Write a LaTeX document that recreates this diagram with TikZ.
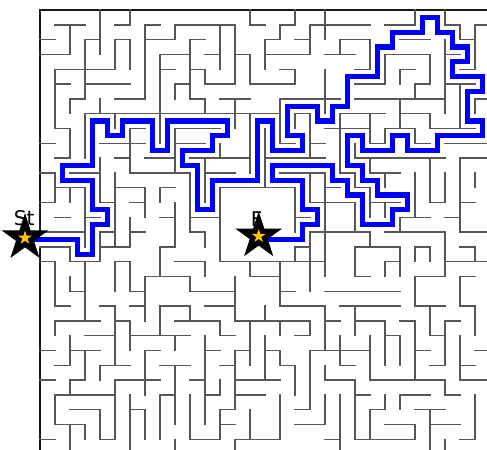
\documentclass[tikz,border=0pt]{standalone}
\usepackage{fontspec}
\newfontfamily\lblfont{DejaVu Sans}
\usetikzlibrary{shapes.geometric}
\begin{document}
\begin{tikzpicture}[x=0.3cm,y=-0.296cm,
  wall/.style={draw=black!66,line width=0.8pt,line cap=rect},
  border/.style={draw=black!90,line width=0.85pt},
  route/.style={draw=blue,line width=3pt,line join=miter},
  blackstar/.style={star,star points=5,star point ratio=2.618,fill=black,draw=none,inner sep=0pt,minimum size=0.99cm},
  goldstar/.style={star,star points=5,star point ratio=2.618,fill={rgb,255:red,255;green,198;blue,0},draw=none,inner sep=0pt,minimum size=0.29cm},
  lbl/.style={font=\lblfont\fontsize{11.5}{12}\selectfont,inner sep=0pt,text=black,anchor=base}]
\useasboundingbox (-2.6667,-0.6757) rectangle (29.8,29.6622);
% outer border (left and top)
\draw[border] (0,15) -- (0,0) -- (29.8,0);
\draw[border] (0,16) -- (0,30);
% horizontal walls  j / from / to
\foreach \j/\a/\b in {
 1/1/3, 1/5/6, 1/7/8, 1/9/13, 1/14/15, 1/16/17, 1/18/22, 1/23/25, 1/27/28, 1/29/30,
 2/0/1, 2/3/4, 2/5/6, 2/7/9, 2/10/11, 2/15/16, 2/17/18, 2/20/22, 2/24/26, 2/28/29,
 3/0/2, 3/8/10, 3/11/12, 3/13/14, 3/15/18, 3/19/21, 3/23/26, 3/27/28,
 4/1/5, 4/8/9, 4/10/11, 4/16/17, 4/21/22, 4/24/25, 4/28/29,
 5/1/2, 5/3/6, 5/9/10, 5/11/13, 5/14/17, 5/21/23, 5/25/26, 5/27/29,
 6/2/3, 6/5/7, 6/10/11, 6/12/14, 6/16/20, 6/21/27, 6/29/30,
 7/3/16, 7/17/18, 7/20/23, 7/24/26,
 8/1/2, 8/6/7, 8/9/12, 8/19/22, 8/23/25, 8/26/29,
 9/0/1, 9/4/7, 9/9/11, 9/16/17, 9/18/19, 9/22/23, 9/25/26, 9/27/30,
 10/1/2, 10/5/6, 10/7/9, 10/10/14, 10/15/19, 10/21/27, 10/28/30,
 11/0/1, 11/2/4, 11/6/10, 11/11/13, 11/16/19, 11/20/21, 11/22/24,
 12/1/3, 12/5/7, 12/8/9, 12/12/17, 12/19/20, 12/21/22,
 13/0/1, 13/4/5, 13/6/7, 13/18/21, 13/22/24, 13/26/27, 13/28/29,
 14/1/2, 14/3/4, 14/8/9, 14/10/12, 14/17/18, 14/24/26, 14/27/28,
 15/0/3, 15/4/5, 15/6/7, 15/10/11, 15/18/22, 15/23/27, 15/28/30,
 16/0/2, 16/4/6, 16/8/9, 16/17/18, 16/21/24, 16/25/26, 16/28/29,
 17/0/1, 17/2/4, 17/5/6, 17/9/11, 17/12/19, 17/23/24, 17/27/30,
 18/7/10, 18/14/16, 18/21/22, 18/25/27, 18/28/29,
 19/2/3, 19/6/7, 19/10/13, 19/16/17, 19/19/24,
 20/1/2, 20/4/5, 20/6/7, 20/8/10, 20/11/13, 20/16/19, 20/20/24, 20/25/27, 20/28/29,
 21/1/4, 21/5/6, 21/9/12, 21/13/18, 21/19/20, 21/21/23, 21/24/25, 21/27/28,
 22/3/5, 22/6/10, 22/12/13, 22/17/18, 22/23/24, 22/26/27,
 23/0/1, 23/2/4, 23/7/8, 23/11/12, 23/13/14, 23/15/16, 23/18/22, 23/25/26, 23/29/30,
 24/1/2, 24/4/6, 24/8/10, 24/12/13, 24/16/17, 24/20/21, 24/26/27, 24/28/29,
 25/0/1, 25/2/3, 25/5/8, 25/10/11, 25/13/16, 25/19/21, 25/22/27, 25/28/30,
 26/1/5, 26/8/9, 26/11/12, 26/13/15, 26/21/22, 26/24/26, 26/27/28,
 27/2/4, 27/6/7, 27/12/13, 27/17/18, 27/22/23, 27/25/27,
 28/1/3, 28/12/13, 28/17/19, 28/23/25, 28/26/28,
 29/0/1, 29/4/5, 29/10/12, 29/13/16, 29/19/20, 29/21/25, 29/28/29}
 \draw[wall] (\a,\j) -- (\b,\j);
% vertical walls  i / from / to
\foreach \i/\a/\b in {
 1/4/8, 1/11/13, 1/17/20, 1/21/22, 1/26/28,
 2/1/3, 2/6/7, 2/8/10, 2/12/13, 2/16/17, 2/18/19, 2/22/24, 2/25/26, 2/28/30,
 3/2/6, 3/7/10, 3/12/16, 3/17/21, 3/23/25, 3/28/29,
 4/0/3, 4/6/7, 4/10/13, 4/15/17, 4/24/25, 4/27/29,
 5/2/4, 5/7/8, 5/11/16, 5/17/19, 5/20/24, 5/25/29,
 6/0/1, 6/2/4, 6/8/11, 6/14/16, 6/17/19, 6/21/23, 6/26/30,
 7/1/6, 7/12/14, 7/18/21, 7/23/26, 7/27/29,
 8/3/9, 8/12/13, 8/16/18, 8/20/22, 8/26/29,
 9/1/2, 9/5/6, 9/8/11, 9/13/16, 9/22/23, 9/24/28, 9/29/30,
 10/2/6, 10/11/15, 10/18/19, 10/20/21, 10/26/29,
 11/4/5, 11/6/7, 11/10/13, 11/15/16, 11/17/18, 11/22/28,
 12/1/4, 12/9/10, 12/12/17, 12/21/22, 12/25/26, 12/27/29,
 13/1/5, 13/6/8, 13/18/21, 13/23/27, 13/29/30,
 14/0/1, 14/3/5, 14/7/11, 14/17/18, 14/21/24, 14/27/29,
 15/2/4, 15/8/12, 15/20/21, 15/22/25,
 16/1/2, 16/6/9, 16/17/20, 16/21/22, 16/23/24, 16/26/29,
 17/0/1, 17/4/5, 17/7/8, 17/12/15, 17/16/17, 17/24/26,
 18/1/3, 18/7/10, 18/11/13, 18/15/19, 18/21/22, 18/23/27,
 19/0/2, 19/4/7, 19/11/18, 19/20/23, 19/24/25, 19/26/28,
 20/2/3, 20/7/11, 20/22/24, 20/26/30,
 21/9/10, 21/11/12, 21/13/15, 21/16/18, 21/20/22, 21/25/29,
 22/2/4, 22/7/9, 22/10/11, 22/12/14, 22/15/16, 22/22/25, 22/27/29,
 23/3/5, 23/8/9, 23/11/12, 23/13/14, 23/17/18, 23/21/24, 23/26/27,
 24/4/5, 24/6/8, 24/14/15, 24/16/18, 24/22/24, 24/26/27,
 25/0/1, 25/5/6, 25/8/9, 25/11/14, 25/16/17, 25/18/20, 25/21/25, 25/28/29,
 26/3/5, 26/7/8, 26/10/13, 26/16/17, 26/20/22, 26/27/30,
 27/0/1, 27/2/7, 27/11/13, 27/15/18, 27/21/24, 27/25/26, 27/29/30,
 28/1/2, 28/5/8, 28/10/15, 28/18/20, 28/22/25,
 29/1/4, 29/6/7, 29/11/12, 29/16/17, 29/20/22, 29/26/29}
 \draw[wall] (\i,\a) -- (\i,\b);
% solution route
\draw[route] (-1,15.5) -- (2.5,15.5) -- (2.5,16.5) -- (3.5,16.5) -- (3.5,14.5) -- (4.5,14.5) -- (4.5,13.5) -- (3.5,13.5) -- (3.5,11.5) -- (1.5,11.5) -- (1.5,10.5) -- (3.5,10.5) -- (3.5,7.5) -- (4.5,7.5) -- (4.5,8.5) -- (5.5,8.5) -- (5.5,7.5) -- (7.5,7.5) -- (7.5,9.5) -- (8.5,9.5) -- (8.5,7.5) -- (12.5,7.5) -- (12.5,8.5) -- (11.5,8.5) -- (11.5,9.5) -- (9.5,9.5) -- (9.5,10.5) -- (10.5,10.5) -- (10.5,13.5) -- (11.5,13.5) -- (11.5,11.5) -- (14.5,11.5) -- (14.5,7.5) -- (15.5,7.5) -- (15.5,9.5) -- (17.5,9.5) -- (17.5,8.5) -- (16.5,8.5) -- (16.5,6.5) -- (18.5,6.5) -- (18.5,7.5) -- (19.5,7.5) -- (19.5,6.5) -- (20.5,6.5) -- (20.5,4.5) -- (22.5,4.5) -- (22.5,2.5) -- (23.5,2.5) -- (23.5,1.5) -- (25.5,1.5) -- (25.5,0.5) -- (26.5,0.5) -- (26.5,1.5) -- (27.5,1.5) -- (27.5,2.5) -- (28.5,2.5) -- (28.5,3.5) -- (27.5,3.5) -- (27.5,4.5) -- (29.5,4.5) -- (29.5,5.5) -- (28.5,5.5) -- (28.5,7.5) -- (29.5,7.5) -- (29.5,8.5) -- (26.5,8.5) -- (26.5,9.5) -- (24.5,9.5) -- (24.5,8.5) -- (23.5,8.5) -- (23.5,9.5) -- (21.5,9.5) -- (21.5,8.5) -- (20.5,8.5) -- (20.5,10.5) -- (21.5,10.5) -- (21.5,11.5) -- (22.5,11.5) -- (22.5,12.5) -- (24.5,12.5) -- (24.5,13.5) -- (23.5,13.5) -- (23.5,14.5) -- (21.5,14.5) -- (21.5,12.5) -- (20.5,12.5) -- (20.5,11.5) -- (19.5,11.5) -- (19.5,10.5) -- (15.5,10.5) -- (15.5,11.5) -- (17.5,11.5) -- (17.5,13.5) -- (18.5,13.5) -- (18.5,14.5) -- (17.5,14.5) -- (17.5,15.5) -- (14.5,15.5);
% start and finish
\node[lbl] (stlbl) at (-1.05,14.57) {St};
\node[lbl] (finlbl) at (14.45,14.62) {F};
\node[blackstar] (start) at (-1,15.4) {};
\node[goldstar] (startin) at (start.center) {};
\node[blackstar] (finish) at (14.58,15.28) {};
\node[goldstar] (finishin) at (finish.center) {};
\end{tikzpicture}
\end{document}
